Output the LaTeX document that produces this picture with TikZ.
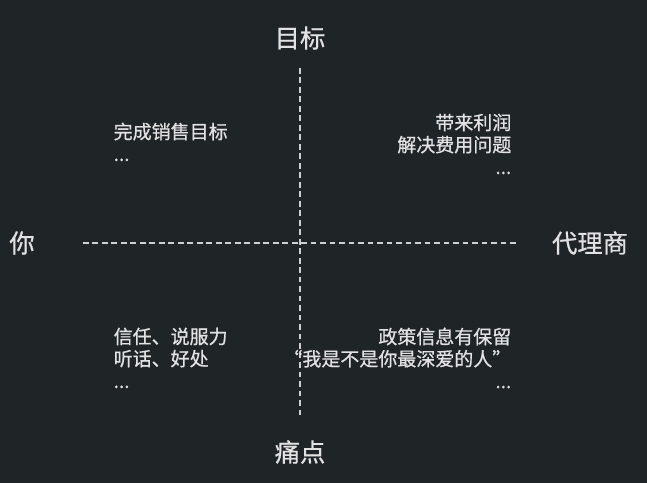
\documentclass[tikz,border=0pt]{standalone}
\usepackage{fontspec}
\setmainfont{Noto Sans CJK SC}[FakeBold=0.7]
\definecolor{bgdark}{HTML}{1F2427}
\definecolor{txtgray}{HTML}{E2E2E2}
\definecolor{axisgray}{HTML}{CFCFCF}
\begin{document}
\begin{tikzpicture}[x=0.01cm,y=-0.01cm,
    axis/.style={draw=axisgray,line width=0.6pt,dash pattern=on 1.6pt off 1.1pt},
    biglabel/.style={text=txtgray,inner sep=0pt,font=\fontsize{7.2pt}{8pt}\selectfont},
    note/.style={text=txtgray,inner sep=0pt,font=\fontsize{5.4pt}{6.3pt}\selectfont}]
  \fill[bgdark] (0,0) rectangle (647,483);
  \useasboundingbox (0,0) rectangle (647,483);
  % axes
  \coordinate (top) at (300,68);
  \coordinate (bottom) at (300,416);
  \coordinate (left) at (83,243);
  \coordinate (right) at (517,243);
  \draw[axis] (top) -- (bottom);
  \draw[axis] (left) -- (right);
  % axis labels
  \node[biglabel] (goal) at (300,38) {目标};
  \node[biglabel] (pain) at (300,452) {痛点};
  \node[biglabel] (you) at (22,243) {你};
  \node[biglabel] (agent) at (590,243) {代理商};
  % quadrant notes
  \node[note,anchor=north west,align=left] (ul) at (113,122)
    {完成销售目标\\...};
  \node[note,anchor=north east,align=right] (ur) at (512,113)
    {带来利润\\解决费用问题\\...};
  \node[note,anchor=north west,align=left] (ll) at (113,327)
    {信任、说服力\\听话、好处\\...};
  \node[note,anchor=north east,align=right] (lr) at (512,327)
    {政策信息有保留\\“我是不是你最深爱的人”\\...};
\end{tikzpicture}
\end{document}
